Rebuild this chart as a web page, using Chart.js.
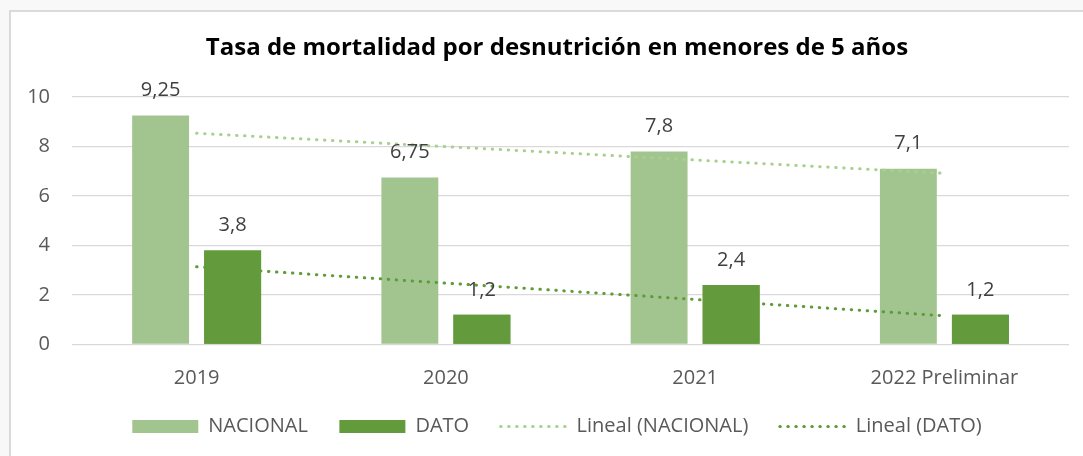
<!DOCTYPE html>
<html lang="es">
<head>
<meta charset="utf-8">
<title>Tasa de mortalidad por desnutrición</title>
<script src="https://cdn.jsdelivr.net/npm/chart.js@4.4.1/dist/chart.umd.min.js"></script>
<style>
    html, body { margin: 0; padding: 0; background: #f8f8f8; overflow: hidden; }
    #frame {
        position: absolute; left: 9px; top: 10px; width: 1100px; height: 470px;
        background: #fff; border-left: 2px solid #dadada; border-top: 2px solid #dadada;
    }
    #chart { position: absolute; left: 0; top: 0; }
</style>
</head>
<body>
<div id="frame"></div>
<canvas id="chart" width="1083" height="456"></canvas>
<script>
// datos
const years    = ['2019', '2020', '2021', '2022 Preliminar'];
const nacional = [9.25, 6.75, 7.8, 7.1];
const dato     = [3.8, 1.2, 2.4, 1.2];
const yTicks   = [0, 2, 4, 6, 8, 10];

const FONT = "'Open Sans', 'DejaVu Sans', sans-serif";
const GREY = '#595959';

// tendencia lineal (mínimos cuadrados), como la "Lineal" de Excel
function linearTrend(values) {
    const n = values.length;
    const xs = values.map((_, i) => i + 1);
    const mx = xs.reduce((a, b) => a + b, 0) / n;
    const my = values.reduce((a, b) => a + b, 0) / n;
    let sxy = 0, sxx = 0;
    xs.forEach((x, i) => { sxy += (x - mx) * (values[i] - my); sxx += (x - mx) ** 2; });
    const slope = sxy / sxx;
    return xs.map(x => my + slope * (x - mx));
}

// barras DATO por encima de las tendencias + etiquetas de valor
const barLabels = {
    id: 'barLabels',
    afterDatasetsDraw(chart) {
        const ctx = chart.ctx;
        chart.getDatasetMeta(1).controller.draw();
        ctx.save();
        ctx.font = `20px ${FONT}`;
        ctx.fillStyle = '#404040';
        ctx.textAlign = 'center';
        ctx.textBaseline = 'middle';
        chart.data.datasets.forEach((ds, i) => {
            if (ds.type !== 'bar') return;
            chart.getDatasetMeta(i).data.forEach((bar, j) => {
                const txt = String(ds.data[j]).replace('.', ',');
                ctx.fillText(txt, bar.x, bar.y - 25);
            });
        });
        ctx.restore();
    }
};

new Chart(document.getElementById('chart'), {
    data: {
        labels: years,
        datasets: [
            {
                type: 'bar', label: 'NACIONAL', data: nacional,
                backgroundColor: '#a2c590', pointStyle: 'rect', order: 2,
                categoryPercentage: 0.578, barPercentage: 0.79,
            },
            {
                type: 'bar', label: 'DATO', data: dato,
                backgroundColor: '#629a3c', pointStyle: 'rect', order: 2,
                categoryPercentage: 0.578, barPercentage: 0.79,
            },
            {
                type: 'line', label: 'Lineal (NACIONAL)', data: linearTrend(nacional),
                borderColor: '#a9d08e', backgroundColor: 'transparent',
                borderWidth: 3, borderDash: [0.5, 7.5], borderCapStyle: 'round',
                pointRadius: 0, pointStyle: 'line', order: 1,
            },
            {
                type: 'line', label: 'Lineal (DATO)', data: linearTrend(dato),
                borderColor: '#5f9b3a', backgroundColor: 'transparent',
                borderWidth: 3, borderDash: [0.5, 7.5], borderCapStyle: 'round',
                pointRadius: 0, pointStyle: 'line', order: 1,
            },
        ],
    },
    options: {
        responsive: false,
        animation: false,
        devicePixelRatio: 1,
        layout: { padding: { left: 28, right: -3, top: 0, bottom: 9.5 } },
        plugins: {
            title: {
                display: true,
                text: 'Tasa de mortalidad por desnutrición en menores de 5 años',
                color: '#000',
                font: { family: FONT, size: 24, weight: 'bold' },
                padding: { top: 33.6, bottom: 34.6 },
            },
            legend: {
                position: 'bottom',
                labels: {
                    usePointStyle: true,
                    pointStyleWidth: 66,
                    boxHeight: 13,
                    padding: 31.5,
                    color: GREY,
                    font: { family: FONT, size: 20 },
                    sort: (a, b) => a.datasetIndex - b.datasetIndex,
                    generateLabels(c) {
                        const items = Chart.defaults.plugins.legend.labels.generateLabels(c);
                        items.forEach(it => {
                            const ds = c.data.datasets[it.datasetIndex];
                            if (ds.type === 'line') {
                                it.lineDash = ds.borderDash;
                                it.lineCap = ds.borderCapStyle;
                                it.lineWidth = ds.borderWidth;
                                it.strokeStyle = ds.borderColor;
                            } else {
                                it.lineWidth = 0;
                            }
                        });
                        return items;
                    },
                },
            },
            tooltip: { enabled: false },
        },
        scales: {
            x: {
                grid: { display: false },
                border: { display: false },
                ticks: { color: GREY, font: { family: FONT, size: 20 }, padding: 14 },
                afterFit: s => { s.height = 40.5; },
            },
            y: {
                min: yTicks[0],
                max: yTicks[yTicks.length - 1],
                grid: { color: '#d9d9d9', lineWidth: 1.3, drawTicks: false },
                border: { display: false },
                ticks: {
                    stepSize: yTicks[1] - yTicks[0],
                    color: GREY,
                    font: { family: FONT, size: 20 },
                    padding: 22,
                },
                afterFit: s => { s.width = 44; },
            },
            // hueco a la derecha del área de trazado
            y2: {
                position: 'right',
                display: true,
                grid: { display: false },
                border: { display: false },
                ticks: { display: false },
                afterFit: s => { s.width = 17; },
            },
        },
    },
    plugins: [barLabels],
});
</script>
</body>
</html>
